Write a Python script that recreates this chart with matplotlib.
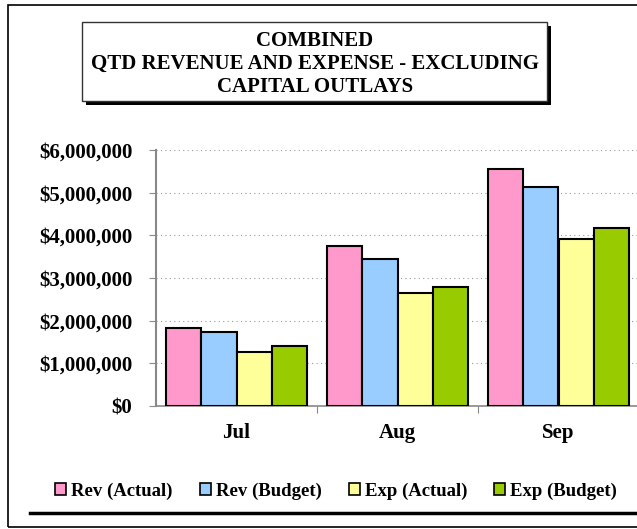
import numpy as np
import matplotlib.pyplot as plt
from matplotlib.patches import Rectangle
from matplotlib.lines import Line2D
from matplotlib.ticker import FuncFormatter

months = ["Jul", "Aug", "Sep"]
series = ["Rev (Actual)", "Rev (Budget)", "Exp (Actual)", "Exp (Budget)"]
rev_actual = [1820000, 3760000, 5560000]
rev_budget = [1730000, 3450000, 5130000]
exp_actual = [1270000, 2650000, 3920000]
exp_budget = [1400000, 2790000, 4180000]
colors = ["#FF99CC", "#99CCFF", "#FFFF99", "#99CC00"]

plt.rcParams['font.family'] = ['Liberation Serif', 'DejaVu Serif']
plt.rcParams['font.weight'] = 'bold'

W, H = 637, 529
fig = plt.figure(figsize=(W / 100, H / 100), dpi=100)

def fx(px):
    return px / W

def fy(py):
    return 1 - py / H

# outer frame
fig.patches.append(Rectangle((fx(8), fy(527)), fx(640) - fx(8), fy(5) - fy(527),
                             transform=fig.transFigure, fill=False, ec="black", lw=1.2))
fig.lines.append(Line2D([fx(30), fx(640)], [fy(513), fy(513)], transform=fig.transFigure,
                        color="black", lw=2.5))

# title box with shadow
fig.patches.append(Rectangle((fx(86), fy(105)), fx(551) - fx(86), fy(26) - fy(105),
                             transform=fig.transFigure, fc="black", ec="black", lw=0))
fig.patches.append(Rectangle((fx(82), fy(101)), fx(547) - fx(82), fy(22) - fy(101),
                             transform=fig.transFigure, fc="white", ec="#333333", lw=1))
fig.text(fx(315), fy(64), "COMBINED\nQTD REVENUE AND EXPENSE - EXCLUDING\nCAPITAL OUTLAYS",
         ha="center", va="center", fontsize=15, fontweight="bold", linespacing=1.22)

ax = fig.add_axes([fx(156), fy(406), fx(639) - fx(156), fy(150) - fy(406)])
x = np.arange(len(months))
width = 0.22
data = [rev_actual, rev_budget, exp_actual, exp_budget]
for i, (vals, c) in enumerate(zip(data, colors)):
    ax.bar(x + (i - 1.5) * width, vals, width, color=c, edgecolor="black", lw=1.5,
           label=series[i], zorder=3)

ax.set_xlim(-0.5, 2.5)
ax.set_ylim(0, 6000000)
ax.set_yticks(np.arange(0, 6000001, 1000000))
ax.yaxis.set_major_formatter(FuncFormatter(lambda v, p: "${:,.0f}".format(v)))
ax.set_xticks([0.5, 1.5], minor=False)
ax.set_xticklabels([])
ax.set_xticks(x, minor=True)
ax.set_xticklabels(months, minor=True)
ax.tick_params(axis="x", which="minor", length=0, pad=12, labelsize=15)
ax.tick_params(axis="x", which="major", length=5, color="#888888")
ax.tick_params(axis="y", length=5, color="#888888", labelsize=15, pad=12)
for lab in ax.get_yticklabels() + ax.get_xticklabels(minor=True):
    lab.set_fontweight("bold")
ax.grid(axis="y", linestyle=(0, (1, 3)), color="#999999", lw=0.8, zorder=0)
for s in ["top", "right"]:
    ax.spines[s].set_visible(False)
ax.spines["left"].set_color("#888888")
ax.spines["left"].set_linewidth(1.5)
ax.spines["bottom"].set_color("#888888")
ax.spines["bottom"].set_linewidth(1.2)

handles = [Rectangle((0, 0), 1, 1, fc=c, ec="black", lw=1.2) for c in colors]
fig.legend(handles, series, loc="center", bbox_to_anchor=(fx(336), fy(491)), ncol=4,
           frameon=False, handlelength=0.6, handleheight=0.6,
           handletextpad=0.25, columnspacing=1.45, prop={"weight": "bold", "size": 13.5})

fig.savefig("out.png", dpi=100)
